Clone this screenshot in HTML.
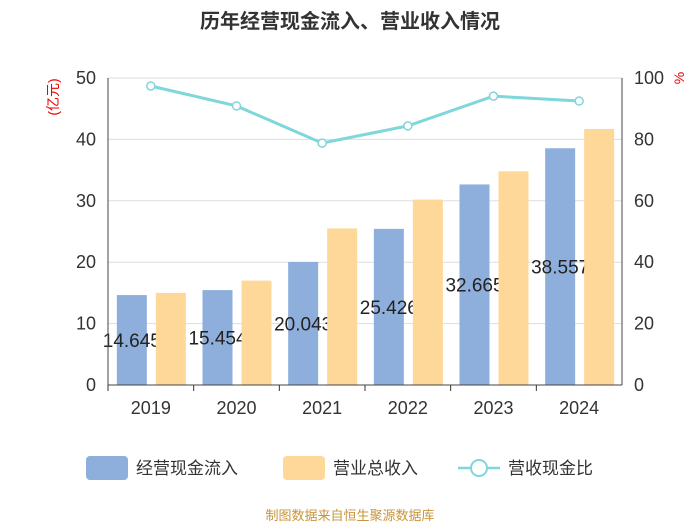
<!DOCTYPE html>
<html><head><meta charset="utf-8"><style>
body{margin:0;background:#fff;font-family:"Liberation Sans","Noto Sans CJK SC",sans-serif}
</style></head><body>
<svg id="c" width="700" height="525" xmlns="http://www.w3.org/2000/svg" font-family="Liberation Sans, Noto Sans CJK SC, sans-serif">
<text x="350" y="28" text-anchor="middle" font-size="20" font-weight="bold" fill="#333">历年经营现金流入、营业收入情况</text>
<text transform="translate(58,97) rotate(-90)" text-anchor="middle" font-size="14" fill="#e00">(亿元)</text>
<text transform="translate(684,78) rotate(-90)" text-anchor="middle" font-size="14" fill="#e00">%</text>
<g id="grid"></g><g id="bars"></g><g id="labels"></g><g id="line"></g><g id="axes"></g>
<g>
<rect x="86" y="456" width="42" height="24" rx="4" fill="#8eaedc"/>
<text x="136" y="474" font-size="17" fill="#333">经营现金流入</text>
<rect x="283" y="456" width="42" height="24" rx="4" fill="#fdd898"/>
<text x="333" y="474" font-size="17" fill="#333">营业总收入</text>
<line x1="458" y1="468" x2="500" y2="468" stroke="#7fd6db" stroke-width="2.5"/>
<circle cx="479" cy="468" r="8" fill="#fff" stroke="#7fd6db" stroke-width="2"/>
<text x="508" y="474" font-size="17" fill="#333">营收现金比</text>
</g>
<text x="350" y="520" text-anchor="middle" font-size="13" fill="#c8953a">制图数据来自恒生聚源数据库</text>
</svg>
<script>
const years=["2019","2020","2021","2022","2023","2024"];
const cashIn=[14.645,15.454,20.043,25.426,32.665,38.557];
const revenue=[15.0,17.0,25.5,30.2,34.8,41.7];
const ratio=[97.4,90.9,78.8,84.4,94.1,92.5];
const leftTicks=[0,10,20,30,40,50];
const rightTicks=[0,20,40,60,80,100];
const NS="http://www.w3.org/2000/svg";
const L=108,R=622,T=78,B=385,bw=(R-L)/years.length;
const yL=v=>B-(v/50)*(B-T), yR=v=>B-(v/100)*(B-T), xc=i=>L+bw*(i+0.5);
function mk(tag,a,p){const e=document.createElementNS(NS,tag);for(const k in a)e.setAttribute(k,a[k]);document.getElementById(p).appendChild(e);return e;}
leftTicks.forEach((t,i)=>{
 let g=mk('line',{x1:L,x2:R,y1:yL(t),y2:yL(t),stroke:'#ddd'},'grid');
 
 
 let a=mk('text',{x:L-12,y:yL(t)+6,'text-anchor':'end','font-size':18,fill:'#333'},'axes');a.textContent=t;
 
 
 let b=mk('text',{x:R+12,y:yR(rightTicks[i])+6,'font-size':18,fill:'#333'},'axes');b.textContent=rightTicks[i];
 
 
});
[[L,T,L,B],[R,T,R,B],[L,B,R,B]].forEach(c=>{let l=mk('line',{x1:c[0],y1:c[1],x2:c[2],y2:c[3],stroke:'#444'},'axes');
 
 });
years.forEach((y,i)=>{
 let x=xc(i);
 let t=mk('line',{x1:L+bw*i,x2:L+bw*i,y1:B,y2:B+6,stroke:'#333'},'axes');
 
 
 let lb=mk('text',{x:x,y:B+29,'text-anchor':'middle','font-size':18,fill:'#333'},'axes');lb.textContent=y;
 
 
 let b1=mk('rect',{x:x-34,y:yL(cashIn[i]),width:30,height:B-yL(cashIn[i]),fill:'#8eaedc'},'bars');
 
 
 let tx=mk('text',{x:x-19,y:(yL(cashIn[i])+B)/2+7,'text-anchor':'middle','font-size':19,fill:'#222'},'bars');tx.textContent=cashIn[i];
 
 
 let b2=mk('rect',{x:x+5,y:yL(revenue[i]),width:30,height:B-yL(revenue[i]),fill:'#fdd898'},'bars');
 
 
});
let pl=mk('polyline',{points:ratio.map((v,i)=>xc(i)+','+yR(v)).join(' '),fill:'none',stroke:'#7fd6db','stroke-width':3},'line');


ratio.forEach((v,i)=>{let c=mk('circle',{cx:xc(i),cy:yR(v),r:4,fill:'#fff',stroke:'#7fd6db','stroke-width':1.5},'line');
 
 });
</script>
</body></html>
